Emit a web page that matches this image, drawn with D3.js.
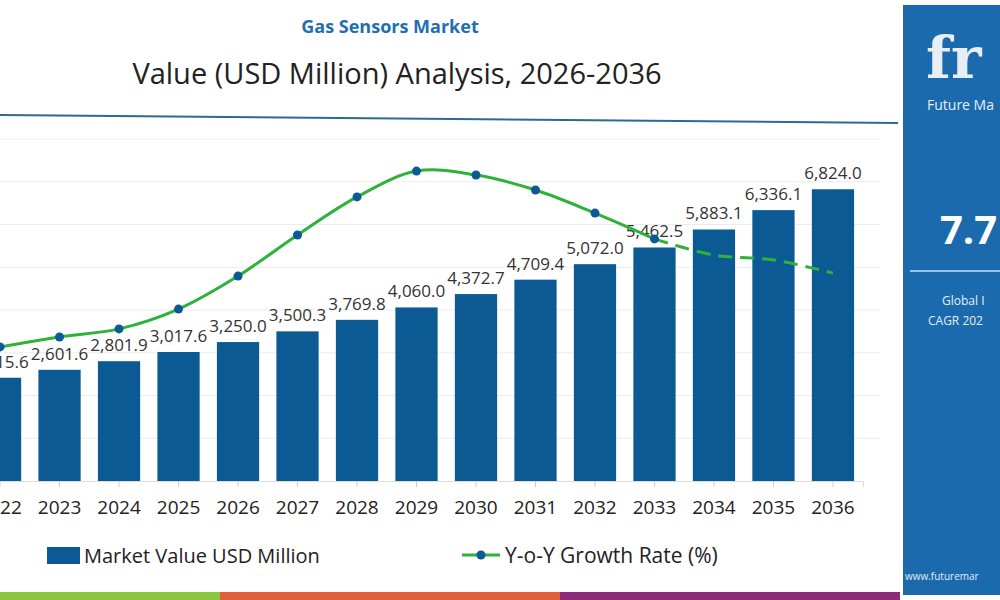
<!DOCTYPE html><html><head><meta charset="utf-8"><script src="https://cdn.jsdelivr.net/npm/d3@7"></script>
<style>body{margin:0;background:#fff}svg{display:block;font-family:"Open Sans",sans-serif}</style></head><body><svg id="c" width="1000" height="600"></svg>
<script>
const years=["2022","2023","2024","2025","2026","2027","2028","2029","2030","2031","2032","2033","2034","2035","2036"];
const values=[2415.6,2601.6,2801.9,3017.6,3250.0,3500.3,3769.8,4060.0,4372.7,4709.4,5072.0,5462.5,5883.1,6336.1,6824.0];
const growth=[5.77,6.1,6.37,7.03,8.13,9.5,10.77,11.63,11.5,11.0,10.23,9.37,8.83,8.67,8.23];
const gridTicks=[1000,2000,3000,4000,5000,6000,7000,8000];
const svg=d3.select("#c");
const x=d3.scaleBand().domain(years).range([-30,863]).paddingInner(0.29).paddingOuter(0.15);
const y=d3.scaleLinear().domain([0,8000]).range([481,139]);
const yg=d3.scaleLinear().domain([0,12]).range([520,160]);
svg.append("g").selectAll("line").data(gridTicks).join("line").attr("x1",0).attr("x2",880).attr("y1",d=>y(d)).attr("y2",d=>y(d)).attr("stroke","#ececec");
svg.append("line").attr("x1",0).attr("x2",898).attr("y1",115).attr("y2",123).attr("stroke","#2a6a96").attr("stroke-width",2);
svg.append("text").attr("x",390).attr("y",33).attr("text-anchor","middle").attr("fill","#1f6fb2").attr("font-weight","bold").attr("font-size",18).text("Gas Sensors Market");
svg.append("text").attr("x",397).attr("y",84).attr("text-anchor","middle").attr("fill","#222").attr("font-size",29).text("Value (USD Million) Analysis, 2026-2036");
svg.append("g").selectAll("rect").data(values).join("rect").attr("x",(d,i)=>x(years[i])).attr("width",x.bandwidth()).attr("y",d=>y(d)).attr("height",d=>481-y(d)).attr("fill","#0b5a94");
svg.append("g").selectAll("text").data(values).join("text").attr("x",(d,i)=>x(years[i])+x.bandwidth()/2).attr("y",d=>y(d)-10).attr("text-anchor","middle").attr("font-size",17).attr("fill","#333").text(d=>d3.format(",.1f")(d));
const ax=svg.append("g").attr("transform","translate(0,481)").call(d3.axisBottom(x).tickSize(6).tickPadding(14));
ax.select(".domain").attr("stroke","#ddd");ax.selectAll(".tick line").attr("stroke","#ccc");
ax.selectAll("text").attr("font-size",19).attr("fill","#222").attr("font-family","Open Sans");
const cx=i=>x(years[i])+x.bandwidth()/2;
const line=d3.line().x(d=>cx(d[1])).y(d=>yg(d[0])).curve(d3.curveCatmullRom);
const pts=growth.map((g,i)=>[g,i]);
svg.append("path").attr("d",line(pts.slice(0,12))).attr("fill","none").attr("stroke","#2db23a").attr("stroke-width",3);
svg.append("path").attr("d",line(pts.slice(11))).attr("fill","none").attr("stroke","#2db23a").attr("stroke-width",3).attr("stroke-dasharray","14,8");
svg.append("g").selectAll("circle").data(pts.slice(0,12)).join("circle").attr("cx",d=>cx(d[1])).attr("cy",d=>yg(d[0])).attr("r",4.5).attr("fill","#0b5a94");
// legend
svg.append("rect").attr("x",47).attr("y",547).attr("width",33).attr("height",17).attr("fill","#0b5a94");
svg.append("text").attr("x",84).attr("y",563).attr("font-size",20).attr("fill","#222").text("Market Value USD Million");
svg.append("line").attr("x1",462).attr("x2",500).attr("y1",555).attr("y2",555).attr("stroke","#2db23a").attr("stroke-width",3);
svg.append("circle").attr("cx",481).attr("cy",555).attr("r",4.5).attr("fill","#0b5a94");
svg.append("text").attr("x",505).attr("y",563).attr("font-size",21).attr("fill","#222").text("Y-o-Y Growth Rate (%)");
// stripes
[["#8cc63f",0,220],["#e0603a",220,560],["#8e2a7a",560,900]].forEach(s=>svg.append("rect").attr("x",s[1]).attr("y",592).attr("width",s[2]-s[1]).attr("height",8).attr("fill",s[0]));
// right panel
svg.append("rect").attr("x",903).attr("y",5).attr("width",97).attr("height",590).attr("fill","#1a6aad");
svg.append("text").attr("x",926).attr("y",78).attr("font-size",58).attr("font-weight","bold").attr("fill","#e8eef5").attr("font-family","DejaVu Serif").text("fr");
svg.append("text").attr("x",927).attr("y",110).attr("font-size",14).attr("fill","#e8eef5").text("Future Ma");
svg.append("text").attr("x",940).attr("y",244).attr("font-size",40).attr("font-weight","bold").attr("fill","#fff").text("7.7");
svg.append("line").attr("x1",910).attr("x2",1000).attr("y1",271).attr("y2",271).attr("stroke","#9cc3e6").attr("stroke-width",2);
svg.append("text").attr("x",942).attr("y",305).attr("font-size",12).attr("fill","#e8eef5").text("Global I");
svg.append("text").attr("x",928).attr("y",325).attr("font-size",12).attr("fill","#e8eef5").text("CAGR 202");
svg.append("text").attr("x",905).attr("y",580).attr("font-size",10).attr("fill","#e8eef5").text("www.futuremar");
</script></body></html>
